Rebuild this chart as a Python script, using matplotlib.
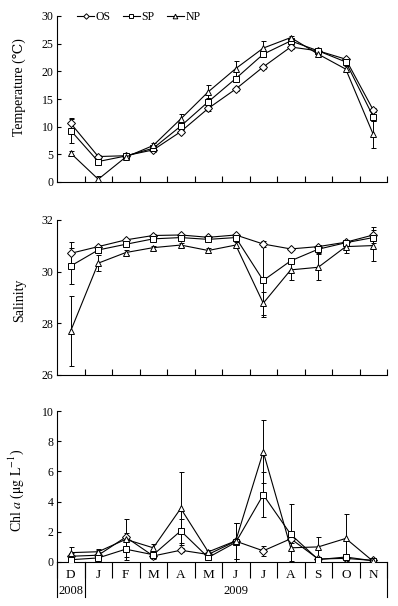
import matplotlib
matplotlib.use("Agg")
import matplotlib.pyplot as plt
import matplotlib.transforms as mtransforms
import numpy as np

plt.rcParams['font.family'] = ['Liberation Serif', 'DejaVu Serif', 'Noto Sans CJK SC']
plt.rcParams['mathtext.fontset'] = 'stix'

months = ['D', 'J', 'F', 'M', 'A', 'M', 'J', 'J', 'A', 'S', 'O', 'N']
years = ['2008', '2009']
series = ['OS', 'SP', 'NP']

temp_os = [10.6, 4.6, 4.75, 5.8, 9.1, 13.3, 16.8, 20.8, 24.4, 23.7, 22.2, 13.0]
temp_sp = [9.3, 3.7, 4.7, 6.1, 10.1, 14.5, 18.7, 23.1, 25.5, 23.7, 21.7, 11.8]
temp_np = [5.2, 0.5, 4.5, 6.6, 11.4, 16.3, 20.5, 24.2, 26.1, 23.1, 20.4, 8.6]
temp_os_err = [0.8, 0.2, 0.2, 0.3, 0.3, 0.4, 0.3, 0.4, 0.3, 0.3, 0.3, 0.3]
temp_sp_err = [2.3, 0.4, 0.2, 0.4, 0.5, 0.6, 0.5, 0.5, 0.3, 0.3, 0.5, 0.8]
temp_np_err = [0.4, 0.5, 0.3, 0.4, 0.8, 1.3, 1.3, 1.3, 0.3, 0.3, 0.5, 2.5]

sal_os = [30.71, 30.97, 31.23, 31.40, 31.42, 31.33, 31.42, 31.07, 30.88, 30.97, 31.14, 31.42]
sal_sp = [30.22, 30.84, 31.06, 31.27, 31.32, 31.25, 31.32, 29.66, 30.42, 30.87, 31.12, 31.32]
sal_np = [27.71, 30.33, 30.74, 30.93, 31.03, 30.82, 31.03, 28.78, 30.07, 30.17, 30.97, 31.01]
sal_os_err = [0.45, 0.08, 0.05, 0.05, 0.05, 0.05, 0.05, 0.1, 0.05, 0.08, 0.05, 0.3]
sal_sp_err = [0.7, 0.1, 0.08, 0.05, 0.05, 0.05, 0.05, 1.4, 0.1, 0.15, 0.08, 0.1]
sal_np_err = [1.35, 0.3, 0.1, 0.08, 0.08, 0.08, 0.1, 0.45, 0.4, 0.5, 0.23, 0.6]

chl_os = [0.38, 0.45, 1.65, 0.40, 0.78, 0.50, 1.38, 0.74, 1.54, 0.20, 0.24, 0.10]
chl_sp = [0.15, 0.27, 0.85, 0.48, 2.06, 0.30, 1.30, 4.45, 1.83, 0.16, 0.33, 0.08]
chl_np = [0.62, 0.68, 1.50, 0.94, 3.55, 0.67, 1.40, 7.30, 0.94, 1.00, 1.56, 0.04]
chl_os_err = [0.2, 0.2, 0.3, 0.2, 0.15, 0.1, 1.2, 0.35, 0.3, 0.1, 0.15, 0.05]
chl_sp_err = [0.1, 0.55, 0.55, 0.2, 0.8, 0.15, 1.3, 1.5, 2.0, 0.1, 0.2, 0.05]
chl_np_err = [0.4, 0.15, 1.35, 0.22, 2.4, 0.15, 1.2, 2.1, 0.9, 0.68, 1.6, 0.1]

W, H = 398, 606
fig = plt.figure(figsize=(W / 100, H / 100), dpi=100)

def axrect(left, top, right, bottom):
    return [left / W, 1 - bottom / H, (right - left) / W, (bottom - top) / H]

ax1 = fig.add_axes(axrect(57, 16, 387, 182))
ax2 = fig.add_axes(axrect(57, 220, 387, 375))
ax3 = fig.add_axes(axrect(57, 411, 387, 562))

x = np.arange(len(months)) + 0.5
markers = {'OS': 'D', 'SP': 's', 'NP': '^'}
msizes = {'OS': 4.0, 'SP': 4.2, 'NP': 4.8}

def draw(ax, vals, errs):
    handles = []
    for name, v, e in zip(series, vals, errs):
        ax.errorbar(x, v, yerr=e, fmt='none', ecolor='black', elinewidth=0.7,
                    capsize=1.8, capthick=0.7, zorder=2)
        h, = ax.plot(x, v, color='black', lw=0.8, marker=markers[name],
                     ms=msizes[name], mfc='white', mec='black', mew=0.7,
                     zorder=3, label=name)
        handles.append(h)
    for s in ['top', 'right']:
        ax.spines[s].set_visible(False)
    for s in ['left', 'bottom']:
        ax.spines[s].set_linewidth(0.8)
    ax.set_xlim(0, len(months))
    return handles

handles = draw(ax1, [temp_os, temp_sp, temp_np], [temp_os_err, temp_sp_err, temp_np_err])
draw(ax2, [sal_os, sal_sp, sal_np], [sal_os_err, sal_sp_err, sal_np_err])
draw(ax3, [chl_os, chl_sp, chl_np], [chl_os_err, chl_sp_err, chl_np_err])

ax1.set_ylim(0, 30)
ax1.set_yticks(np.arange(0, 31, 5))
ax2.set_ylim(26, 32)
ax2.set_yticks([26, 28, 30, 32])
ax3.set_ylim(0, 10)
ax3.set_yticks(np.arange(0, 11, 2))

for ax in (ax1, ax2):
    ax.set_xticks(np.arange(1, len(months) + 1))
    ax.set_xticklabels([])
    ax.tick_params(axis='x', direction='in', length=4, width=0.8)

for ax in (ax1, ax2, ax3):
    ax.tick_params(axis='y', direction='in', length=3, width=0.8, labelsize=8.5, pad=2.5)

ax1.set_ylabel('Temperature (\u2103)', fontsize=10)
ax2.set_ylabel('Salinity', fontsize=10)
ax3.set_ylabel('Chl $\\mathit{a}$ ($\\mathrm{\\mu g\\ L^{-1}}$)', fontsize=10)
ax1.yaxis.set_label_coords(-0.095, 0.572)
ax2.yaxis.set_label_coords(-0.095, 0.484)
ax3.yaxis.set_label_coords(-0.095, 0.477)

# bottom axis: month separators and labels
ax3.set_xticks(np.arange(0, len(months) + 1))
ax3.set_xticklabels([])
ax3.tick_params(axis='x', direction='out', length=11.5, width=0.8)
trans = mtransforms.blended_transform_factory(ax3.transData, ax3.transAxes)
for xi, m in zip(x, months):
    ax3.text(xi, -0.085, m, transform=trans, ha='center', va='center', fontsize=9.5)
for b in [0, 1, len(months)]:
    ax3.plot([b, b], [0, -0.235], transform=trans, color='black', lw=0.8, clip_on=False)
ax3.text(0.5, -0.19, years[0], transform=trans, ha='center', va='center', fontsize=9)
ax3.text((1 + len(months)) / 2, -0.19, years[1], transform=trans, ha='center', va='center', fontsize=9)

leg = fig.legend(handles=handles, loc='center left', bbox_to_anchor=(77 / W, 1 - 17 / H),
                 ncol=3, frameon=False, fontsize=8.5, handlelength=1.45,
                 handletextpad=0.15, columnspacing=1.0, borderpad=0, borderaxespad=0,
                 markerscale=0.7)

fig.savefig('out.png', dpi=100)
